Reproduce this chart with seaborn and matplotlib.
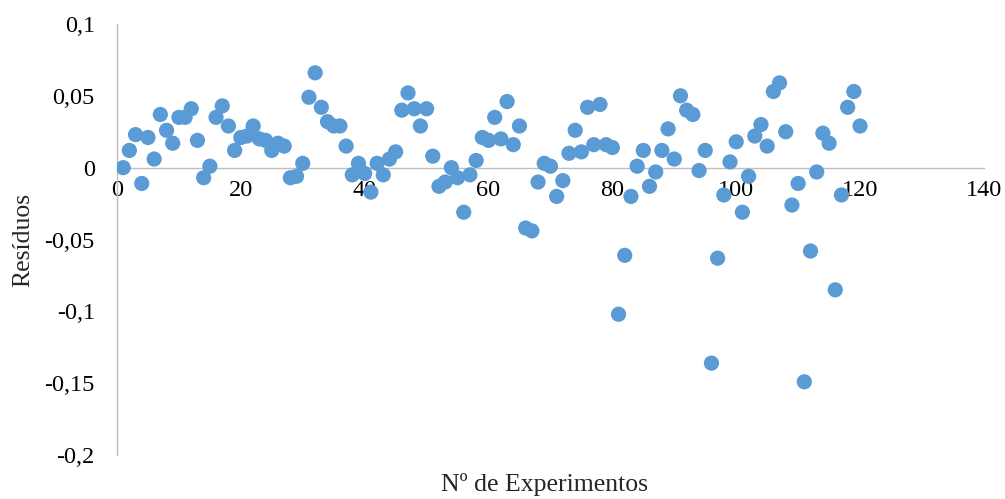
import matplotlib
matplotlib.use("Agg")
import matplotlib.pyplot as plt
import seaborn as sns
import pandas as pd

# Residuals of each experiment (experiment number 1..120)
experimentos = list(range(1, 121))
residuos = [
    0.000, 0.012, 0.023, -0.011, 0.021, 0.006, 0.037, 0.026, 0.017, 0.035,
    0.035, 0.041, 0.019, -0.007, 0.001, 0.035, 0.043, 0.029, 0.012, 0.021,
    0.022, 0.029, 0.020, 0.019, 0.012, 0.017, 0.015, -0.007, -0.006, 0.003,
    0.049, 0.066, 0.042, 0.032, 0.029, 0.029, 0.015, -0.005, 0.003, -0.004,
    -0.017, 0.003, -0.005, 0.006, 0.011, 0.040, 0.052, 0.041, 0.029, 0.041,
    0.008, -0.013, -0.010, 0.000, -0.007, -0.031, -0.005, 0.005, 0.021, 0.019,
    0.035, 0.020, 0.046, 0.016, 0.029, -0.042, -0.044, -0.010, 0.003, 0.001,
    -0.020, -0.009, 0.010, 0.026, 0.011, 0.042, 0.016, 0.044, 0.016, 0.014,
    -0.102, -0.061, -0.020, 0.001, 0.012, -0.013, -0.003, 0.012, 0.027, 0.006,
    0.050, 0.040, 0.037, -0.002, 0.012, -0.136, -0.063, -0.019, 0.004, 0.018,
    -0.031, -0.006, 0.022, 0.030, 0.015, 0.053, 0.059, 0.025, -0.026, -0.011,
    -0.149, -0.058, -0.003, 0.024, 0.017, -0.085, -0.019, 0.042, 0.053, 0.029,
]

x_ticks = [0, 20, 40, 60, 80, 100, 120, 140]
y_ticks = [0.1, 0.05, 0.0, -0.05, -0.1, -0.15, -0.2]
y_tick_labels = ["0,1", "0,05", "0", "-0,05", "-0,1", "-0,15", "-0,2"]

df = pd.DataFrame({"exp": experimentos, "res": residuos})

sns.set_theme(style="white")
plt.rcParams["font.family"] = ["Liberation Serif", "DejaVu Serif"]

fig = plt.figure(figsize=(10.05, 4.99), dpi=100)
ax = fig.add_axes([0.1164, 0.088, 0.8626, 0.864])

sns.scatterplot(data=df, x="exp", y="res", ax=ax, s=120, color="#5B9BD5",
                edgecolor="none", linewidth=0, zorder=3)

ax.set_xlim(0, 140)
ax.set_ylim(-0.2, 0.1)
ax.set_xticks(x_ticks)
ax.set_xticklabels([str(t) for t in x_ticks])
ax.set_yticks(y_ticks)
ax.set_yticklabels(y_tick_labels)

axis_gray = "#BFBFBF"
for side in ("top", "right"):
    ax.spines[side].set_visible(False)
ax.spines["left"].set_color(axis_gray)
ax.spines["left"].set_linewidth(1.0)
ax.spines["bottom"].set_position(("data", 0))
ax.spines["bottom"].set_color(axis_gray)
ax.spines["bottom"].set_linewidth(1.0)
ax.spines["bottom"].set_zorder(1)

ax.tick_params(axis="both", length=0, labelsize=17.5, colors="black")
ax.tick_params(axis="x", pad=9)
ax.tick_params(axis="y", pad=16)

ax.set_xlabel("")
ax.set_ylabel("")
fig.text(0.542, 0.03, "Nº de Experimentos", ha="center", va="center", fontsize=18.5)
fig.text(0.023, 0.519, "Resíduos", ha="center", va="center", rotation=90, fontsize=18.5)

fig.savefig("out.png", dpi=100, facecolor="white")
